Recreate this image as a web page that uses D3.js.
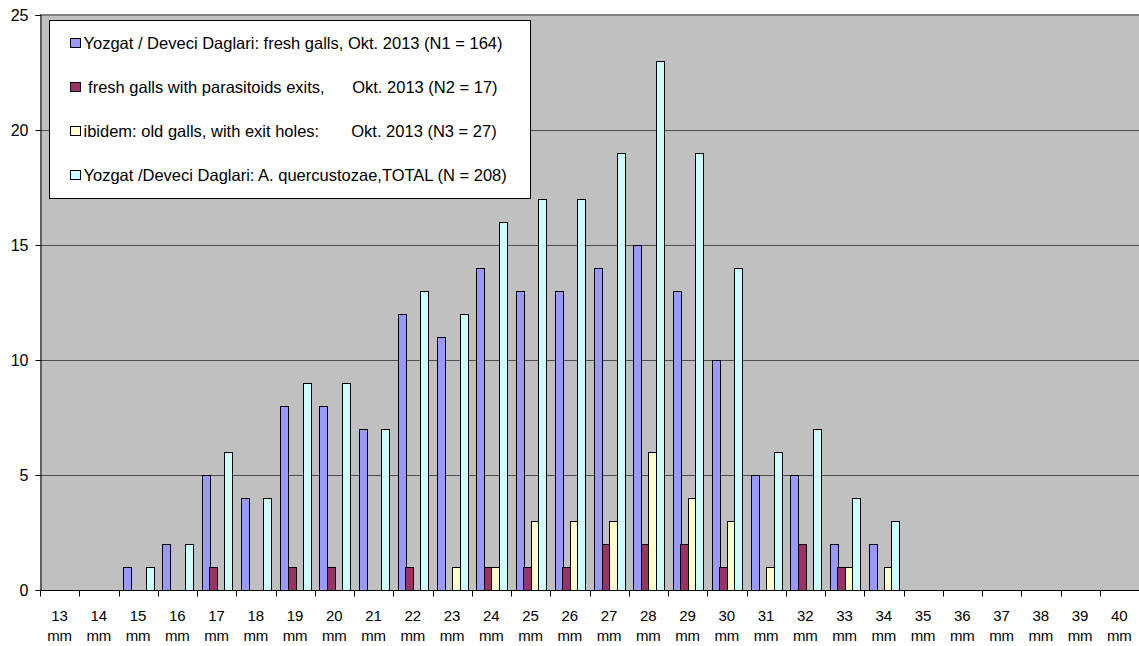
<!DOCTYPE html>
<html>
<head>
<meta charset="utf-8">
<script src="https://cdn.jsdelivr.net/npm/d3@7"></script>
<style>
  body { margin: 0; background: #fff; }
  text { font-family: "Liberation Sans", Arial, sans-serif; fill: #000; }
</style>
</head>
<body>
<script>
const width = 1139;
const height = 646;
const margin = { top: 15, right: 0, bottom: 56, left: 40 };

// gall diameter classes, 13 mm .. 40 mm
const categories = ['13', '14', '15', '16', '17', '18', '19', '20', '21', '22', '23', '24', '25', '26',
    '27', '28', '29', '30', '31', '32', '33', '34', '35', '36', '37', '38', '39', '40'];

const freshGalls = [0, 0, 1, 2, 5, 4, 8, 8, 7, 12, 11, 14, 13, 13, 14, 15, 13, 10, 5, 5, 2, 2, 0, 0, 0, 0, 0, 0];
const parasitoidExits = [0, 0, 0, 0, 1, 0, 1, 1, 0, 1, 0, 1, 1, 1, 2, 2, 2, 1, 0, 2, 1, 0, 0, 0, 0, 0, 0, 0];
const oldGalls = [0, 0, 0, 0, 0, 0, 0, 0, 0, 0, 1, 1, 3, 3, 3, 6, 4, 3, 1, 0, 1, 1, 0, 0, 0, 0, 0, 0];
const totalGalls = [0, 0, 1, 2, 6, 4, 9, 9, 7, 13, 12, 16, 17, 17, 19, 23, 19, 14, 6, 7, 4, 3, 0, 0, 0, 0, 0, 0];

const seriesNames = [
    'Yozgat / Deveci Daglari: fresh galls, Okt. 2013 (N1 = 164)',
    ' fresh galls with parasitoids exits,      Okt. 2013 (N2 = 17)',
    'ibidem: old galls, with exit holes:       Okt. 2013 (N3 = 27)',
    'Yozgat /Deveci Daglari: A. quercustozae,TOTAL (N = 208)'
];
const seriesValues = [freshGalls, parasitoidExits, oldGalls, totalGalls];
const colors = ['#9999ff', '#993366', '#ffffcc', '#ccffff'];
const yTicks = [0, 5, 10, 15, 20, 25];

const svg = d3.select('body')
    .append('svg')
    .attr('width', width)
    .attr('height', height);

const x0 = d3.scaleBand()
    .domain(categories)
    .range([margin.left, width - margin.right]);

const x1 = d3.scaleBand()
    .domain(d3.range(seriesValues.length))
    .range([0, x0.bandwidth()])
    .paddingOuter(0.6);

const y = d3.scaleLinear()
    .domain([0, 25])
    .range([height - margin.bottom, margin.top]);

// plot background
svg.append('rect')
    .attr('x', margin.left)
    .attr('y', margin.top)
    .attr('width', width - margin.right - margin.left)
    .attr('height', y(0) - margin.top)
    .attr('fill', '#c0c0c0');

// gridlines
svg.append('g')
    .selectAll('line')
    .data(yTicks.filter(d => d > 0 && d < 25))
    .enter()
    .append('line')
    .attr('x1', margin.left)
    .attr('x2', width - margin.right)
    .attr('y1', d => Math.round(y(d)) + 0.5)
    .attr('y2', d => Math.round(y(d)) + 0.5)
    .attr('stroke', '#4d4d4d');

svg.append('line')
    .attr('x1', margin.left)
    .attr('x2', width)
    .attr('y1', margin.top)
    .attr('y2', margin.top)
    .attr('stroke', '#808080')
    .attr('stroke-width', 2);

// bars
const groups = svg.append('g')
    .selectAll('g')
    .data(seriesValues)
    .enter()
    .append('g')
    .attr('fill', (d, i) => colors[i]);

groups.selectAll('rect')
    .data((d, i) => d.map((v, j) => ({ s: i, cat: categories[j], v: v })).filter(e => e.v > 0))
    .enter()
    .append('rect')
    .attr('x', d => Math.round(x0(d.cat) + x1(d.s)) + 0.5)
    .attr('y', d => Math.round(y(d.v)) + 0.5)
    .attr('width', Math.round(x1.bandwidth()))
    .attr('height', d => Math.round(y(0)) - Math.round(y(d.v)))
    .attr('stroke', '#000')
    .attr('stroke-width', 1);

// y axis
const yAxis = d3.axisLeft(y).tickValues(yTicks).tickSize(5).tickPadding(7);
svg.append('g')
    .attr('transform', `translate(${margin.left + 0.5}, 0)`)
    .call(yAxis)
    .call(g => g.selectAll('text').style('font-size', '16px').attr('font-family', null))
    .call(g => g.selectAll('line,path').attr('stroke', '#000'));

// x axis, ticks on band boundaries
const xAxisG = svg.append('g')
    .attr('transform', `translate(0, ${Math.round(y(0)) + 0.5})`);
xAxisG.append('line')
    .attr('x1', margin.left)
    .attr('x2', width)
    .attr('stroke', '#000');
xAxisG.selectAll('.tick')
    .data(categories)
    .enter()
    .append('line')
    .attr('x1', d => Math.round(x0(d)) + 0.5)
    .attr('x2', d => Math.round(x0(d)) + 0.5)
    .attr('y1', 0)
    .attr('y2', 6)
    .attr('stroke', '#000');

const xLabels = xAxisG.selectAll('text')
    .data(categories)
    .enter()
    .append('text')
    .attr('text-anchor', 'middle')
    .style('font-size', '15px');
xLabels.append('tspan')
    .attr('x', d => x0(d) + x0.bandwidth() / 2)
    .attr('y', 30)
    .text(d => d);
xLabels.append('tspan')
    .attr('x', d => x0(d) + x0.bandwidth() / 2)
    .attr('y', 50)
    .text('mm');

// legend
const legend = svg.append('g')
    .attr('transform', 'translate(49.5, 20.5)');
legend.append('rect')
    .attr('width', 481)
    .attr('height', 178)
    .attr('fill', '#fff')
    .attr('stroke', '#000');

const items = legend.selectAll('.item')
    .data(seriesNames)
    .enter()
    .append('g')
    .attr('transform', (d, i) => `translate(21, ${23 + i * 44})`);
items.append('rect')
    .attr('width', 10)
    .attr('height', 9)
    .attr('y', -5)
    .attr('fill', (d, i) => colors[i])
    .attr('stroke', '#000');
items.append('text')
    .attr('x', 13)
    .attr('y', 5.5)
    .style('font-size', '16.5px')
    .style('white-space', 'pre')
    .attr('xml:space', 'preserve')
    .text(d => d);
</script>
</body>
</html>
